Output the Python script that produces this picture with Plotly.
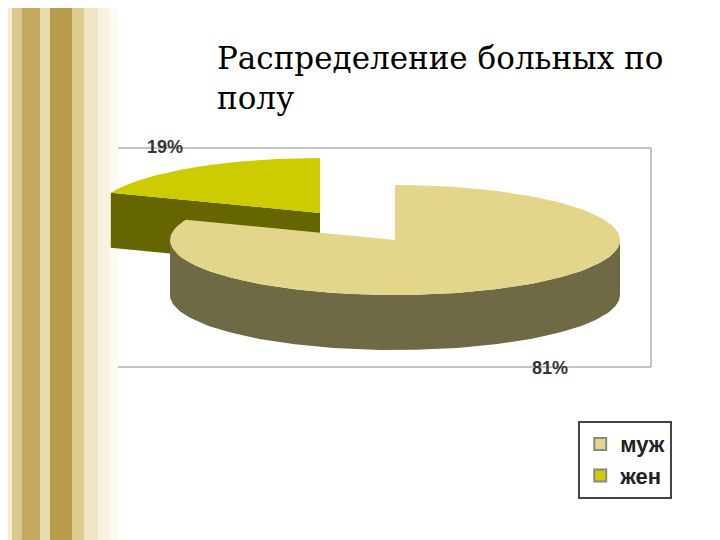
import numpy as np
import plotly.graph_objects as go

categories = ["муж", "жен"]
values = [81, 19]
labels = ["81%", "19%"]
top_colors = ["#e3d68a", "#cccc00"]
side_colors = ["#6e6a46", "#666600"]

# pie geometry in page pixels
cx, cy, rx, ry, depth = 395, 240, 225, 55, 55
pull = (-75, -27)
off = 8  # page body margin

fracs = np.array(values) / sum(values)
small_start = 90.0
small_end = small_start + fracs[1] * 360
main_start, main_end = small_end, small_start + 360


def arc(t0, t1, ox=0, oy=0, n=120):
    t = np.radians(np.linspace(t0, t1, n))
    return cx + ox + rx * np.cos(t), cy + oy - ry * np.sin(t)


fig = go.Figure()

# small slice (pulled out)
ox, oy = pull
ex, ey = arc(small_end, small_end, ox, oy, 1)
fig.add_trace(go.Scatter(
    x=[cx + ox, ex[0], ex[0], cx + ox, cx + ox],
    y=[cy + oy, ey[0], ey[0] + depth, cy + oy + depth, cy + oy],
    fill="toself", fillcolor=side_colors[1], line=dict(width=0),
    mode="lines", showlegend=False, hoverinfo="skip"))
ax, ay = arc(small_start, small_end, ox, oy)
fig.add_trace(go.Scatter(
    x=np.r_[cx + ox, ax, cx + ox], y=np.r_[cy + oy, ay, cy + oy],
    fill="toself", fillcolor=top_colors[1], line=dict(width=0),
    mode="lines", showlegend=False, hoverinfo="skip"))

# main slice: front wall then top
wx, wy = arc(180, 360)
fig.add_trace(go.Scatter(
    x=np.r_[wx, wx[::-1]], y=np.r_[wy, (wy + depth)[::-1]],
    fill="toself", fillcolor=side_colors[0], line=dict(width=0),
    mode="lines", showlegend=False, hoverinfo="skip"))
ax, ay = arc(main_start, main_end)
fig.add_trace(go.Scatter(
    x=np.r_[cx, ax, cx], y=np.r_[cy, ay, cy],
    fill="toself", fillcolor=top_colors[0], line=dict(width=0),
    mode="lines", showlegend=False, hoverinfo="skip"))

# legend entries
for name, col in zip(categories, top_colors):
    fig.add_trace(go.Scatter(
        x=[None], y=[None], mode="markers", name="<b>" + name + "</b>",
        marker=dict(symbol="square", size=16, color=col,
                    line=dict(color="#888", width=1))))

# percentage labels
fig.add_annotation(x=550, y=368, text="<b>" + labels[0] + "</b>", showarrow=False,
                   font=dict(family="Liberation Sans", size=18, color="#333"))
fig.add_annotation(x=165, y=147, text="<b>" + labels[1] + "</b>", showarrow=False,
                   font=dict(family="Liberation Sans", size=18, color="#333"))

# title
fig.add_annotation(x=215, y=38, xanchor="left", yanchor="top", align="left",
                   text="Распределение больных по<br>полу", showarrow=False,
                   font=dict(family="DejaVu Serif", size=31, color="black"))

shapes = [dict(type="rect", x0=67, y0=148, x1=651, y1=367,
               line=dict(color="#888", width=1), layer="below")]
# decorative left border
stripes = [(0, 12, "#f3ecd0"), (12, 22, "#d9c98f"), (22, 40, "#c2a95c"),
           (40, 50, "#e8dcae"), (50, 72, "#b89c4c"), (72, 84, "#dccb8c"),
           (84, 98, "#efe6c6"), (98, 110, "#f7f2e2"), (110, 118, "#fcfaf2")]
for x0, x1, c in stripes:
    shapes.append(dict(type="rect", x0=x0, x1=x1, y0=0, y1=540,
                       fillcolor=c, line=dict(width=0), layer="below"))

fig.update_layout(
    width=720, height=540, margin=dict(l=0, r=0, t=0, b=0),
    paper_bgcolor="white", plot_bgcolor="white", shapes=shapes,
    xaxis=dict(range=[off, 720 + off], visible=False, fixedrange=True),
    yaxis=dict(range=[540 + off, off], visible=False, fixedrange=True),
    legend=dict(x=0.792, y=0.235, xanchor="left", yanchor="top",
                bordercolor="#444", borderwidth=2, bgcolor="white",
                font=dict(family="Liberation Sans", size=22, color="#222"),
                itemsizing="constant"),
)

fig.write_html("out.html")
